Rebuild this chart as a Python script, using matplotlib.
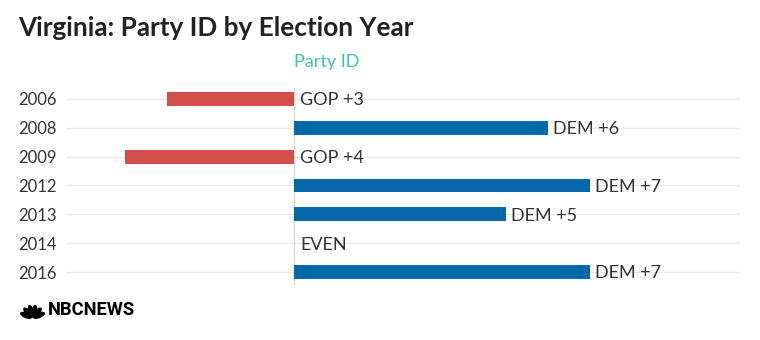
import numpy as np
import matplotlib.pyplot as plt
from matplotlib.patches import Ellipse

years = ['2006', '2008', '2009', '2012', '2013', '2014', '2016']
party_id = [-3, 6, -4, 7, 5, 0, 7]   # negative = GOP, positive = DEM

RED = '#d24f49'
BLUE = '#0568a9'
TXT = '#333333'

plt.rcParams['font.family'] = ['Lato', 'DejaVu Sans']

fig = plt.figure(figsize=(7.6, 3.4), dpi=100)
ax = fig.add_axes([66 / 760, 1 - 285 / 340, 674 / 760, 197 / 340])

rows = list(range(len(years)))
colors = [BLUE if v > 0 else RED for v in party_id]
ax.barh(rows, party_id, height=0.48, color=colors, zorder=2)

for r in rows:
    ax.axhline(r, color='#e9e9e9', lw=1, zorder=0)
ax.axvline(0, color='#d8d8d8', lw=1, zorder=1)

for r, v in zip(rows, party_id):
    if v > 0:
        lab, x = 'DEM +%d' % v, v + 0.12
    elif v < 0:
        lab, x = 'GOP +%d' % -v, 0.15
    else:
        lab, x = 'EVEN', 0.15
    ax.text(x, r + 0.05, lab, va='center', ha='left', fontsize=13, color=TXT, zorder=3)

ax.set_xlim(-5.39, 10.54)
ax.set_ylim(6.45, -0.38)
ax.set_yticks(rows)
ax.set_yticklabels(years, fontsize=12, color=TXT)
ax.tick_params(axis='y', length=0, pad=7)
ax.set_xticks([])
for s in ax.spines.values():
    s.set_visible(False)

fig.text(18 / 760, 1 - 28 / 340, 'Virginia: Party ID by Election Year', fontsize=18.8,
         fontweight='bold', color='#222222', va='center', ha='left')
fig.text(327 / 760, 1 - 62 / 340, 'Party ID', fontsize=13, color='#3fbfbf',
         va='center', ha='center')

# NBC News logo: peacock + wordmark
lx, ly = 32.5, 340 - 318
fan = fig.add_axes([0, 0, 1, 1], zorder=-1)
fan.set_xlim(0, 760)
fan.set_ylim(0, 340)
fan.axis('off')
for th in np.linspace(22, 158, 6):
    t = np.radians(th)
    fan.add_patch(Ellipse((lx + 7 * np.cos(t), ly + 7 * np.sin(t)), 13, 5.6,
                          angle=th, color='black', lw=0))
fig.text(48 / 760, 1 - 310 / 340, 'NBCNEWS', fontsize=13.2, fontweight='bold',
         family=['Roboto', 'DejaVu Sans'], color='black', va='center', ha='left')

fig.savefig('out.png', dpi=100)
